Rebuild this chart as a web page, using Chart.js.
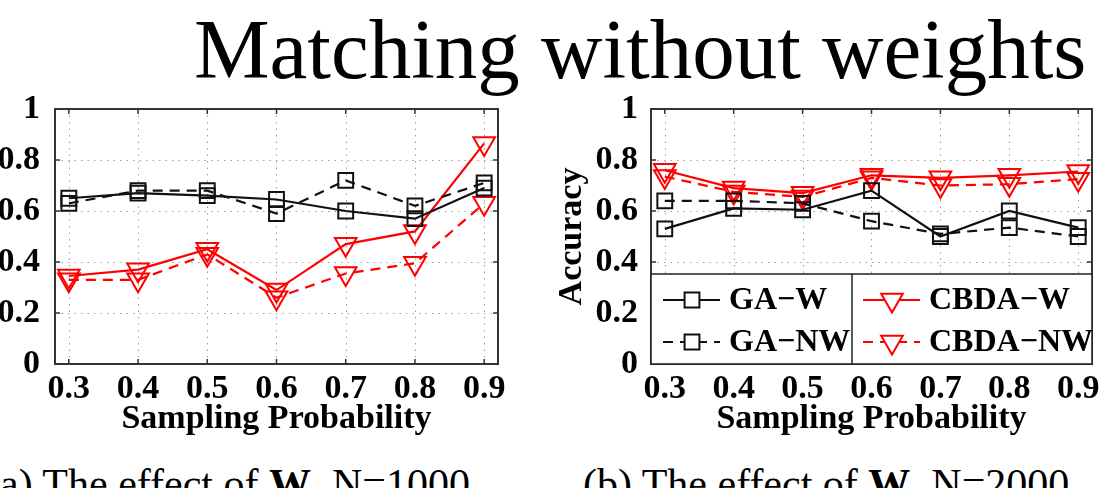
<!DOCTYPE html>
<html>
<head>
<meta charset="utf-8">
<script src="https://cdn.jsdelivr.net/npm/chart.js@4.4.1/dist/chart.umd.min.js"></script>
<style>
  body { margin: 0; width: 1108px; height: 488px; overflow: hidden; background: #fff; position: relative;
         font-family: 'Liberation Serif', 'Times New Roman', serif; color: #000; }
  .panel { position: absolute; top: 0; height: 448px; }
  #title { position: absolute; left: 194px; top: 7px; font-size: 85px; line-height: 1; white-space: nowrap; }
  .cap { position: absolute; top: 463px; font-size: 42px; line-height: 1; white-space: nowrap; }
</style>
</head>
<body>
<div class="panel" style="left:0;width:540px"><canvas id="chart-a" width="540" height="448"></canvas></div>
<div class="panel" style="left:540px;width:568px"><canvas id="chart-b" width="568" height="448"></canvas></div>
<div id="title">Matching without weights</div>
<div class="cap" style="left:-14px">(a) The effect of <b>W</b>, N=1000</div>
<div class="cap" style="left:583px">(b) The effect of <b>W</b>, N=2000</div>

<script>
// Data
const xValues = [0.3, 0.4, 0.5, 0.6, 0.7, 0.8, 0.9];
const xTickLabels = ['0.3', '0.4', '0.5', '0.6', '0.7', '0.8', '0.9'];
const yValues = [0, 0.2, 0.4, 0.6, 0.8, 1];
const yTickLabels = ['0', '0.2', '0.4', '0.6', '0.8', '1'];
const seriesLabels = ['GA\u2212W', 'GA\u2212NW', 'CBDA\u2212W', 'CBDA\u2212NW'];

// (a) N=1000
const gaW1   = [0.65, 0.67, 0.66, 0.645, 0.60, 0.57, 0.69];
const gaNW1  = [0.63, 0.68, 0.68, 0.59, 0.72, 0.62, 0.71];
const cbdaW1  = [0.345, 0.37, 0.45, 0.29, 0.47, 0.52, 0.865];
const cbdaNW1 = [0.33, 0.33, 0.43, 0.26, 0.355, 0.395, 0.63];

// (b) N=2000
const gaW2   = [0.53, 0.61, 0.605, 0.68, 0.50, 0.60, 0.535];
const gaNW2  = [0.64, 0.64, 0.63, 0.56, 0.51, 0.535, 0.50];
const cbdaW2  = [0.76, 0.69, 0.67, 0.74, 0.73, 0.74, 0.755];
const cbdaNW2 = [0.735, 0.675, 0.655, 0.73, 0.70, 0.705, 0.725];

const SERIF = "'Liberation Serif', 'Times New Roman', serif";
const RED = '#ff0000';
const BLACK = '#111111';

function pts(vals) {
  return vals.map((v, i) => ({ x: xValues[i], y: v }));
}

function makeDatasets(gaW, gaNW, cbW, cbNW) {
  const sq = { pointStyle: 'rect', pointRadius: 10.5, pointRotation: 0 };
  const tri = { pointStyle: 'triangle', pointRadius: 12.5, pointRotation: 180 };
  const base = { borderWidth: 2.2, pointBorderWidth: 2, pointBackgroundColor: 'rgba(0,0,0,0)', tension: 0, clip: false };
  return [
    { ...base, ...sq, label: seriesLabels[0], data: pts(gaW), borderColor: BLACK, pointBorderColor: BLACK },
    { ...base, ...sq, label: seriesLabels[1], data: pts(gaNW), borderColor: BLACK, pointBorderColor: BLACK, borderDash: [10, 7] },
    { ...base, ...tri, label: seriesLabels[2], data: pts(cbW), borderColor: RED, pointBorderColor: RED },
    { ...base, ...tri, label: seriesLabels[3], data: pts(cbNW), borderColor: RED, pointBorderColor: RED, borderDash: [10, 7] },
  ];
}

// Dotted grid, box and inward ticks (MATLAB look)
const framePlugin = {
  id: 'frame',
  beforeDatasetsDraw(chart) {
    const { ctx, chartArea: a, scales: { x, y } } = chart;
    ctx.save();
    ctx.strokeStyle = '#a0a0a0';
    ctx.lineWidth = 1;
    ctx.setLineDash([1.5, 5]);
    ctx.beginPath();
    x.ticks.forEach(t => {
      const px = Math.round(x.getPixelForValue(t.value)) + 0.5;
      ctx.moveTo(px, a.top); ctx.lineTo(px, a.bottom);
    });
    y.ticks.forEach(t => {
      if (t.value <= 0 || t.value >= 1) return;
      const py = Math.round(y.getPixelForValue(t.value)) + 0.5;
      ctx.moveTo(a.left, py); ctx.lineTo(a.right, py);
    });
    ctx.stroke();
    ctx.restore();
  },
  afterDatasetsDraw(chart) {
    const { ctx, chartArea: a, scales: { x, y } } = chart;
    ctx.save();
    ctx.strokeStyle = '#333';
    ctx.lineWidth = 1.5;
    ctx.beginPath();
    x.ticks.forEach(t => {
      const px = x.getPixelForValue(t.value);
      ctx.moveTo(px, a.bottom); ctx.lineTo(px, a.bottom - 5);
      ctx.moveTo(px, a.top); ctx.lineTo(px, a.top + 5);
    });
    y.ticks.forEach(t => {
      const py = y.getPixelForValue(t.value);
      ctx.moveTo(a.left, py); ctx.lineTo(a.left + 5, py);
      ctx.moveTo(a.right, py); ctx.lineTo(a.right - 5, py);
    });
    ctx.stroke();
    ctx.lineWidth = 2;
    ctx.strokeRect(a.left, a.top, a.right - a.left, a.bottom - a.top);
    ctx.restore();
  }
};

// Two-column legend box sitting inside the plot of panel (b)
const boxLegendPlugin = {
  id: 'boxLegend',
  afterDraw(chart, args, opts) {
    if (!opts.show) return;
    const { ctx, chartArea: a } = chart;
    const top = a.bottom - 90;
    const mid = a.left + 201;
    ctx.save();
    ctx.fillStyle = '#fff';
    ctx.fillRect(a.left, top, a.right - a.left, a.bottom - top);
    ctx.strokeStyle = '#222';
    ctx.lineWidth = 1.5;
    ctx.strokeRect(a.left, top, a.right - a.left, a.bottom - top);
    ctx.beginPath();
    ctx.moveTo(mid, top); ctx.lineTo(mid, a.bottom);
    ctx.stroke();

    const rows = [a.bottom - 64, a.bottom - 22];
    const cols = [a.left + 12, mid + 11];
    ctx.font = `bold 32px ${SERIF}`;
    ctx.textBaseline = 'middle';
    chart.data.datasets.forEach((ds, i) => {
      const cx = cols[Math.floor(i / 2)];
      const cy = rows[i % 2];
      ctx.strokeStyle = ds.borderColor;
      ctx.lineWidth = 2.2;
      ctx.setLineDash(ds.borderDash || []);
      ctx.beginPath();
      ctx.moveTo(cx, cy); ctx.lineTo(cx + 57, cy);
      ctx.stroke();
      ctx.setLineDash([]);
      ctx.fillStyle = '#fff';
      ctx.lineWidth = 2;
      Chart.helpers.drawPoint(ctx, {
        pointStyle: ds.pointStyle, rotation: ds.pointRotation,
        radius: ds.pointRadius, borderWidth: 2
      }, cx + 29, cy);
      ctx.fillStyle = '#000';
      ctx.fillText(ds.label, cx + 66, cy + 1);
    });
    ctx.restore();
  }
};

function makeChart(id, datasets, dims) {
  const tickFont = { family: SERIF, size: 34, weight: 'bold' };
  return new Chart(document.getElementById(id), {
    type: 'line',
    data: { datasets },
    plugins: [framePlugin, boxLegendPlugin],
    options: {
      responsive: false,
      animation: false,
      layout: { padding: { left: 0, top: 109, right: dims.right, bottom: 8 } },
      plugins: {
        legend: { display: false },
        tooltip: { enabled: false },
        boxLegend: { show: dims.legend },
      },
      scales: {
        x: {
          type: 'linear',
          min: 0.28, max: 0.92,
          grid: { display: false },
          border: { display: false },
          afterBuildTicks: s => { s.ticks = xValues.map(v => ({ value: v })); },
          afterFit: s => { s.height = 76; },
          ticks: {
            color: '#000', font: tickFont, padding: -3, maxRotation: 0, autoSkip: false,
            callback: (v, i) => xTickLabels[i],
          },
          title: { display: true, text: 'Sampling Probability', color: '#000', font: tickFont, padding: 0 },
        },
        y: {
          min: 0, max: 1,
          grid: { display: false },
          border: { display: false },
          afterBuildTicks: s => { s.ticks = yValues.map(v => ({ value: v })); },
          afterFit: s => { s.width = dims.yWidth; },
          ticks: {
            color: '#000', font: tickFont, padding: dims.yPad,
            callback: (v, i) => yTickLabels[i],
          },
          title: { display: dims.yTitle, text: 'Accuracy', color: '#000', font: tickFont, padding: { top: 12 } },
        },
      },
    },
  });
}

makeChart('chart-a', makeDatasets(gaW1, gaNW1, cbdaW1, cbdaNW1), { right: 42, yWidth: 55, yPad: 7, yTitle: false, legend: false });
makeChart('chart-b', makeDatasets(gaW2, gaNW2, cbdaW2, cbdaNW2), { right: 16, yWidth: 111, yPad: 5, yTitle: true, legend: true });
</script>
</body>
</html>
